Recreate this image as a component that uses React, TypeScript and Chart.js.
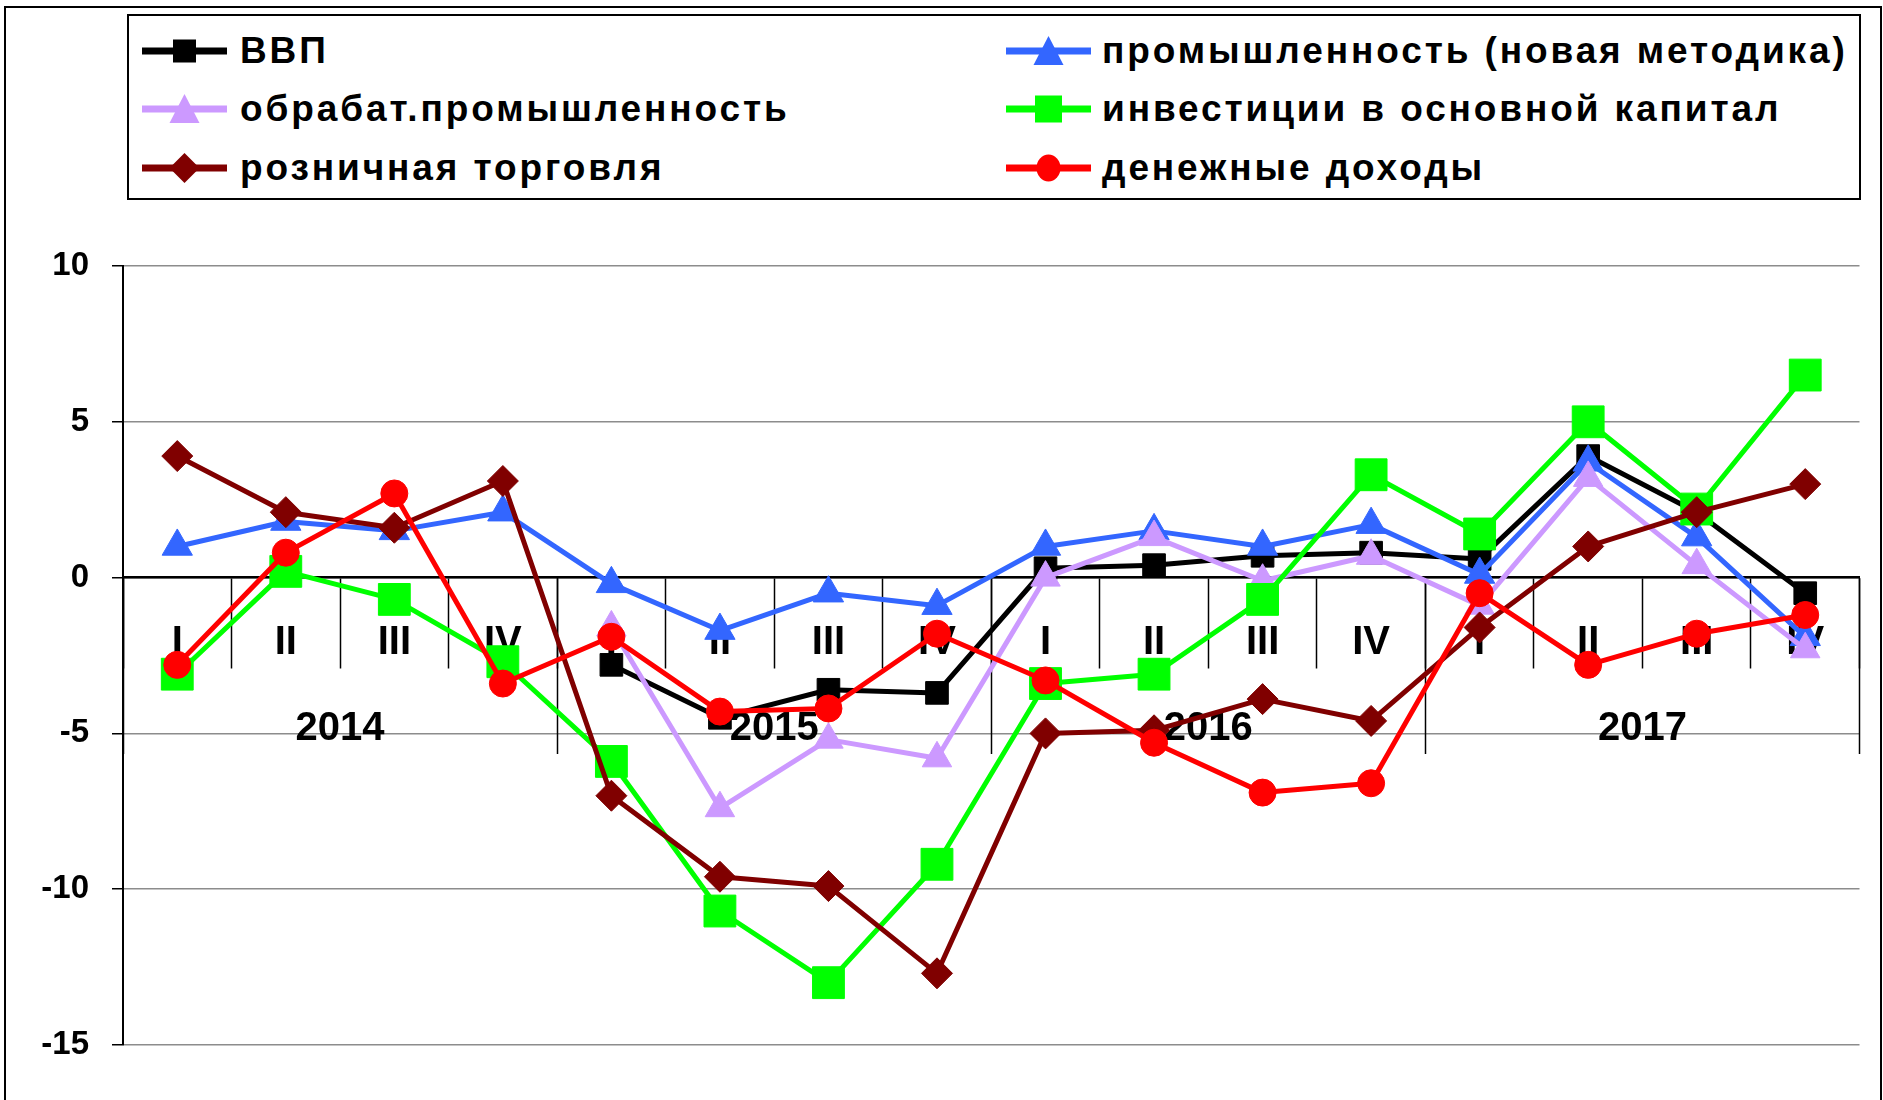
import React, { useEffect, useRef } from 'react';
import { Chart, registerables } from 'chart.js';

Chart.register(...registerables);

// ---- data ----
const quarterLabels = ['I', 'II', 'III', 'IV', 'I', 'II', 'III', 'IV', 'I', 'II', 'III', 'IV', 'I', 'II', 'III', 'IV'];
const yearLabels = ['2014', '2015', '2016', '2017'];
const seriesNames = [
  'ВВП',
  'промышленность (новая методика)',
  'обрабат.промышленность',
  'инвестиции в основной капитал',
  'розничная торговля',
  'денежные доходы',
];
const gdp = [null, null, null, null, -2.8, -4.5, -3.6, -3.7, 0.3, 0.4, 0.7, 0.8, 0.6, 3.9, 2.1, -0.5];
const industryNew = [1.0, 1.8, 1.5, 2.1, -0.2, -1.7, -0.5, -0.9, 1.0, 1.5, 1.0, 1.7, 0.1, 3.7, 1.3, -1.9];
const manufacturing = [null, null, null, null, -1.6, -7.4, -5.2, -5.8, 0.0, 1.3, -0.1, 0.7, -0.9, 3.2, 0.4, -2.3];
const investment = [-3.1, 0.2, -0.7, -2.7, -5.9, -10.7, -13.0, -9.2, -3.4, -3.1, -0.7, 3.3, 1.4, 5.0, 2.2, 6.5];
const retail = [3.9, 2.1, 1.6, 3.1, -7.0, -9.6, -9.9, -12.7, -5.0, -4.9, -3.9, -4.6, -1.6, 1.0, 2.1, 3.0];
const income = [-2.8, 0.8, 2.7, -3.4, -1.9, -4.3, -4.2, -1.8, -3.3, -5.3, -6.9, -6.6, -0.5, -2.8, -1.8, -1.2];
const yTicks = { min: -15, max: 10, step: 5 };

// ---- styles ----
const seriesValues = [gdp, industryNew, manufacturing, investment, retail, income];
const seriesColors = ['#000000', '#3366FF', '#CC99FF', '#00FF00', '#800000', '#FF0000'];
const pointStyles = ['rect', 'triangle', 'triangle', 'rect', 'rectRot', 'circle'];
const pointRadii = [16, 17.5, 17, 22.5, 15.5, 13.5];
const FONT = "'Liberation Sans', Arial, sans-serif";

function LegendMarker({ idx }: { idx: number }) {
  const c = seriesColors[idx];
  const cx = 42.5;
  const cy = 20;
  let shape: React.ReactNode = null;
  if (idx === 0) shape = <rect x={cx - 11.5} y={cy - 11.5} width={23} height={23} fill={c} />;
  else if (idx === 3) shape = <rect x={cx - 13.5} y={cy - 13.5} width={27} height={27} fill={c} />;
  else if (idx === 1 || idx === 2)
    shape = <polygon points={`${cx},${cy - 15} ${cx - 15},${cy + 14} ${cx + 15},${cy + 14}`} fill={c} />;
  else if (idx === 4)
    shape = <polygon points={`${cx - 15},${cy} ${cx},${cy - 15} ${cx + 15},${cy} ${cx},${cy + 15}`} fill={c} />;
  else shape = <ellipse cx={cx} cy={cy} rx={12} ry={13.5} fill={c} />;
  return (
    <svg width={85} height={40} style={{ display: 'block' }}>
      <line x1={0} y1={cy} x2={85} y2={cy} stroke={c} strokeWidth={7} />
      {shape}
    </svg>
  );
}

export default function App() {
  const canvasRef = useRef<HTMLCanvasElement | null>(null);

  useEffect(() => {
    if (!canvasRef.current) return;
    Chart.defaults.font.family = FONT;
    const chart = new Chart(canvasRef.current, {
      type: 'line',
      data: {
        labels: quarterLabels,
        datasets: seriesValues.map((vals, i) => ({
          label: seriesNames[i],
          data: vals,
          borderColor: seriesColors[i],
          backgroundColor: seriesColors[i],
          borderWidth: 5,
          borderJoinStyle: 'round' as const,
          pointStyle: pointStyles[i] as any,
          pointRadius: pointRadii[i],
          pointBackgroundColor: seriesColors[i],
          pointBorderColor: seriesColors[i],
          pointBorderWidth: 1,
          tension: 0,
          order: 5 - i,
          xAxisID: 'x',
          yAxisID: 'y',
          clip: false as any,
        })),
      },
      options: {
        responsive: false,
        animation: false,
        events: [],
        layout: { padding: { top: 266, bottom: 55, left: 0, right: 14 } },
        plugins: { legend: { display: false }, tooltip: { enabled: false } },
        scales: {
          y: {
            position: 'left',
            min: yTicks.min,
            max: yTicks.max,
            ticks: {
              stepSize: yTicks.step,
              font: { size: 33, weight: 'bold' },
              color: '#000',
              padding: 23,
            },
            grid: { color: '#8c8c8c', lineWidth: 1.5, tickColor: '#000', tickLength: 11, tickWidth: 1.5 },
            border: { display: true, color: '#000', width: 2 },
            afterFit: (s: any) => {
              s.width = 123;
            },
          },
          x: {
            type: 'category',
            position: { y: 0 } as any,
            offset: true,
            z: 0,
            ticks: { display: false, autoSkip: false },
            grid: {
              display: true,
              drawOnChartArea: false,
              offset: true,
              tickLength: 90,
              tickColor: '#000',
              tickWidth: 1.5,
            },
            border: { display: true, color: '#000', width: 2.5 },
          },
          xl: {
            type: 'category',
            labels: quarterLabels,
            position: { y: 0 } as any,
            offset: true,
            z: 1,
            ticks: {
              font: { size: 40, weight: 'bold' },
              color: '#000',
              padding: 41,
              autoSkip: false,
              maxRotation: 0,
            },
            grid: { display: false, drawTicks: false },
            border: { display: false },
          },
          x2: {
            type: 'category',
            labels: yearLabels,
            position: { y: 0 } as any,
            offset: true,
            z: 1,
            ticks: {
              font: { size: 40, weight: 'bold' },
              color: '#000',
              padding: -49,
              autoSkip: false,
              maxRotation: 0,
            },
            grid: {
              display: true,
              drawOnChartArea: false,
              offset: true,
              tickLength: 176,
              tickColor: '#000',
              tickWidth: 1.5,
            },
            border: { display: false },
          },
        } as any,
      },
    });
    return () => chart.destroy();
  }, []);

  const colX = [142, 1006];
  const textX = [240, 1102];
  const rowY = [51, 109, 168];

  return (
    <div
      style={{
        position: 'absolute',
        left: 0,
        top: 0,
        width: 1883,
        height: 1100,
        overflow: 'hidden',
        background: '#fff',
        fontFamily: FONT,
      }}
    >
      <canvas
        ref={canvasRef}
        width={1883}
        height={1100}
        style={{ position: 'absolute', left: 0, top: 0, width: 1883, height: 1100 }}
      />
      <div
        style={{
          position: 'absolute',
          left: 4,
          top: 6,
          width: 1878,
          height: 1200,
          border: '2.5px solid #000',
          boxSizing: 'border-box',
          pointerEvents: 'none',
        }}
      />
      <div
        style={{
          position: 'absolute',
          left: 127,
          top: 14,
          width: 1734,
          height: 186,
          border: '2px solid #000',
          boxSizing: 'border-box',
          background: '#fff',
        }}
      />
      {seriesNames.map((name, i) => {
        const row = Math.floor(i / 2);
        const col = i % 2;
        return (
          <React.Fragment key={name}>
            <div style={{ position: 'absolute', left: colX[col], top: rowY[row] - 20 }}>
              <LegendMarker idx={i} />
            </div>
            <div
              style={{
                position: 'absolute',
                left: textX[col],
                top: rowY[row] - 25,
                height: 50,
                display: 'flex',
                alignItems: 'center',
                fontSize: 37,
                fontWeight: 'bold',
                color: '#000',
                whiteSpace: 'nowrap',
                letterSpacing: 2.9,
              }}
            >
              {name}
            </div>
          </React.Fragment>
        );
      })}
    </div>
  );
}
